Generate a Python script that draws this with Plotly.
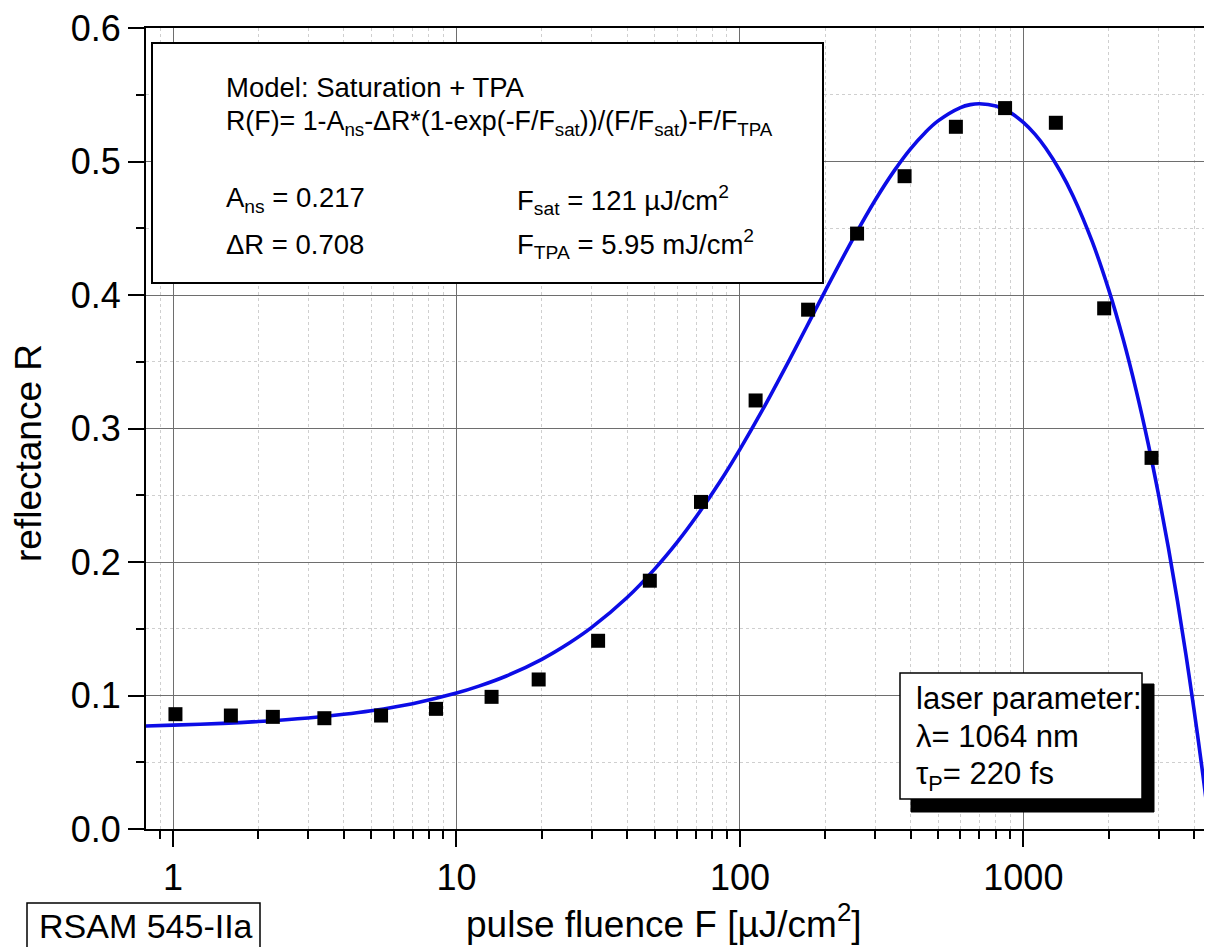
import plotly.graph_objects as go

# ---------------- data ----------------
fluence_meas = [1.02, 1.60, 2.25, 3.42, 5.42, 8.47, 13.3, 19.5, 31.6, 48.1, 72.9,
                113.6, 174, 259, 381, 578, 862, 1302, 1928, 2833]
reflect_meas = [0.086, 0.085, 0.084, 0.083, 0.085, 0.090, 0.099, 0.112, 0.141, 0.186,
                0.245, 0.321, 0.389, 0.446, 0.489, 0.526, 0.540, 0.529, 0.390, 0.278]

fit_fluence = [0.8, 1, 1.5, 2, 3, 4, 5, 7, 10, 12, 15, 20, 25, 30, 40, 50, 60, 70, 85,
               100, 120, 150, 175, 200, 250, 300, 350, 400, 450, 500, 600, 650, 700,
               800, 900, 1000, 1100, 1200, 1350, 1500, 1750, 2000, 2250, 2500, 2750,
               3000, 3250, 3500, 3750, 4000, 4150, 4300, 4500, 4800]
fit_reflect = [0.0772, 0.0778, 0.0791, 0.0805, 0.0832, 0.0859, 0.0886, 0.0939, 0.1018,
               0.1070, 0.1146, 0.1271, 0.1393, 0.1510, 0.1734, 0.1947, 0.2147, 0.2337,
               0.2601, 0.2844, 0.3137, 0.3520, 0.3793, 0.4031, 0.4417, 0.4710, 0.4930,
               0.5095, 0.5216, 0.5304, 0.5404, 0.5426, 0.5433, 0.5416, 0.5366, 0.5293,
               0.5203, 0.5099, 0.4927, 0.4738, 0.4399, 0.4040, 0.3668, 0.3286, 0.2897,
               0.2502, 0.2104, 0.1703, 0.1299, 0.0893, 0.0649, 0.0404, 0.0077, -0.0416]

x_tick_vals = [1, 10, 100, 1000]
x_tick_text = ["1", "10", "100", "1000"]
y_tick_vals = [0.0, 0.1, 0.2, 0.3, 0.4, 0.5, 0.6]
y_tick_text = ["0.0", "0.1", "0.2", "0.3", "0.4", "0.5", "0.6"]

# ---------------- layout geometry (page pixels) ----------------
PAGE_W, PAGE_H = 1212, 947
OFF = 8                      # default body margin of the html page
W, H = PAGE_W - OFF, PAGE_H - OFF
L, R_, T, B = 146, 1212, 28, 829   # plot area in page pixels
FONT = "Liberation Sans, Arial, Helvetica, sans-serif"


def px(x):
    return (x - L) / (R_ - L)


def py(y):
    return (B - y) / (B - T)


x_minor_vals = [m * 10 ** e for e in range(-1, 4) for m in range(2, 10)
                if 0.8 <= m * 10 ** e <= 4700]

fig = go.Figure()
fig.add_trace(go.Scatter(
    x=fit_fluence, y=fit_reflect, mode="lines",
    line=dict(color="#0c0ce6", width=3.6, shape="spline", smoothing=1.0),
    hoverinfo="skip"))
fig.add_trace(go.Scatter(
    x=fluence_meas, y=reflect_meas, mode="markers",
    marker=dict(symbol="square", size=14, color="black")))

fig.update_layout(
    width=W, height=H,
    margin=dict(l=L - OFF, r=W - (R_ - OFF), t=T - OFF, b=H - (B - OFF), pad=0),
    paper_bgcolor="white", plot_bgcolor="white",
    showlegend=False,
    font=dict(family=FONT, color="black"),
)

fig.update_xaxes(
    type="log", range=[-0.0953, 3.6655],
    tickmode="array", tickvals=x_tick_vals, ticktext=x_tick_text,
    ticks="outside", ticklen=16, tickwidth=2, tickcolor="black",
    tickfont=dict(size=36, family=FONT, color="black"),
    ticklabeloverflow="allow",
    showline=True, linecolor="black", linewidth=2, mirror=True,
    showgrid=True, gridcolor="#6e6e6e", gridwidth=1.4,
    zeroline=False,
    minor=dict(tickmode="array", tickvals=x_minor_vals, ticks="outside",
               ticklen=8, tickwidth=2, tickcolor="black",
               showgrid=True, gridcolor="#cfcfcf", gridwidth=1, griddash="dot"),
)
fig.update_yaxes(
    range=[0, 0.6],
    tickmode="array", tickvals=y_tick_vals, ticktext=y_tick_text,
    ticks="outside", ticklen=16, tickwidth=2, tickcolor="black",
    tickfont=dict(size=36, family=FONT, color="black"),
    ticklabeloverflow="allow",
    showline=True, linecolor="black", linewidth=2, mirror=False,
    showgrid=True, gridcolor="#6e6e6e", gridwidth=1.4,
    zeroline=False,
    minor=dict(dtick=0.05, ticks="outside", ticklen=8, tickwidth=2,
               tickcolor="black", showgrid=True, gridcolor="#cfcfcf",
               gridwidth=1, griddash="dot"),
)

shapes = []
# model box
shapes.append(dict(type="rect", xref="paper", yref="paper",
                   x0=px(152), x1=px(823), y0=py(283), y1=py(43),
                   fillcolor="white", line=dict(color="black", width=2), layer="above"))
# laser box shadow + box
shapes.append(dict(type="rect", xref="paper", yref="paper",
                   x0=px(911), x1=px(1154), y0=py(812), y1=py(684),
                   fillcolor="black", line=dict(color="black", width=1), layer="above"))
shapes.append(dict(type="rect", xref="paper", yref="paper",
                   x0=px(900), x1=px(1142), y0=py(799), y1=py(673),
                   fillcolor="white", line=dict(color="black", width=1.5), layer="above"))
# sample label box
shapes.append(dict(type="rect", xref="paper", yref="paper",
                   x0=px(27), x1=px(260), y0=py(960), y1=py(903),
                   fillcolor="white", line=dict(color="black", width=1.5), layer="above"))
fig.update_layout(shapes=shapes)


def ann(x, y, text, size, xanchor="left", angle=0):
    fig.add_annotation(xref="paper", yref="paper", x=px(x), y=py(y),
                       text=text, showarrow=False, xanchor=xanchor, yanchor="middle",
                       align="left", textangle=angle,
                       font=dict(size=size, family=FONT, color="black"))


ann(224, 88, "Model: Saturation + TPA", 27.5)
ann(224, 123, "R(F)= 1-A<sub>ns</sub>-ΔR*(1-exp(-F/F<sub>sat</sub>))/(F/F<sub>sat</sub>)-F/F<sub>TPA</sub>", 26.8)
ann(224, 200, "A<sub>ns</sub> = 0.217", 27.5)
ann(224, 244, "ΔR = 0.708", 27.5)
ann(515, 200, "F<sub>sat</sub> = 121 µJ/cm<sup>2</sup>", 27.5)
ann(515, 244, "F<sub>TPA</sub> = 5.95 mJ/cm<sup>2</sup>", 27.5)

ann(914, 698, "laser parameter:", 31)
ann(914, 736, "λ= 1064 nm", 31)
ann(914, 776, "τ<sub>P</sub>= 220 fs", 31)

ann(146, 926, "RSAM 545-IIa", 34, xanchor="center")
ann(664, 921, "pulse fluence F [µJ/cm<sup>2</sup>]", 37, xanchor="center")
ann(29, 453, "reflectance R", 37, xanchor="center", angle=-90)

fig.write_html("out.html")
